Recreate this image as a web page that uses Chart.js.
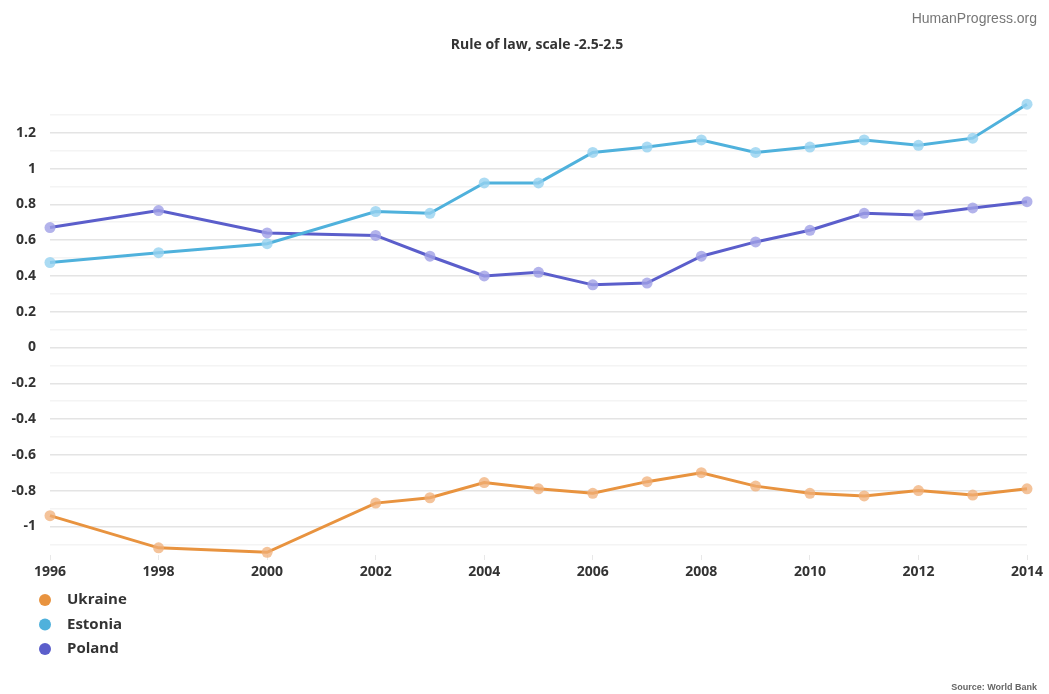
<!DOCTYPE html>
<html>
<head>
  <meta charset="utf-8" />
  <title>Rule of law, scale -2.5-2.5</title>
  <script src="https://cdn.jsdelivr.net/npm/chart.js"></script>
  <style>
    html, body { margin: 0; padding: 0; background: #fff; }
    #wrap { position: relative; width: 1049px; height: 694px; }
  </style>
</head>
<body>
  <div id="wrap">
    <canvas id="lawChart" width="1049" height="694"></canvas>
  </div>

  <script>
    // Data
    const years = [1996, 1998, 2000, 2002, 2003, 2004, 2005, 2006, 2007, 2008, 2009, 2010, 2011, 2012, 2013, 2014];
    const ukraine = [-0.94, -1.12, -1.145, -0.87, -0.84, -0.755, -0.79, -0.815, -0.75, -0.70, -0.775, -0.815, -0.83, -0.80, -0.825, -0.79];
    const estonia = [0.475, 0.53, 0.58, 0.76, 0.75, 0.92, 0.92, 1.09, 1.12, 1.16, 1.09, 1.12, 1.16, 1.13, 1.17, 1.36];
    const poland = [0.67, 0.765, 0.64, 0.626, 0.51, 0.40, 0.42, 0.35, 0.36, 0.51, 0.59, 0.655, 0.75, 0.74, 0.78, 0.815];
    const seriesNames = ['Ukraine', 'Estonia', 'Poland'];
    const seriesColors = ['#e8933f', '#4fb1dc', '#5b5ecb'];
    const markerColors = ['rgba(240,175,120,0.75)', 'rgba(150,210,240,0.8)', 'rgba(160,160,230,0.8)'];
    const xTicks = [1996, 1998, 2000, 2002, 2004, 2006, 2008, 2010, 2012, 2014];

    const chartTitle = 'Rule of law, scale -2.5-2.5';
    const creditText = 'HumanProgress.org';
    const sourceText = 'Source: World Bank';

    function toPoints(values) {
      return values.map((v, i) => ({ x: years[i], y: v }));
    }

    const datasets = [ukraine, estonia, poland].map((vals, i) => ({
      label: seriesNames[i],
      data: toPoints(vals),
      borderColor: seriesColors[i],
      backgroundColor: seriesColors[i],
      borderWidth: 3,
      pointRadius: 5.5,
      pointBackgroundColor: markerColors[i],
      pointBorderWidth: 0,
      tension: 0,
      clip: false
    }));

    // Extra texts + vertical legend drawn on the canvas
    const extras = {
      id: 'extras',
      afterDraw(chart) {
        const ctx = chart.ctx;
        ctx.save();
        ctx.textBaseline = 'middle';

        ctx.fillStyle = '#777';
        ctx.font = '14px "Liberation Sans", Arial, sans-serif';
        ctx.textAlign = 'right';
        ctx.fillText(creditText, 1037, 19);

        ctx.fillStyle = '#333';
        ctx.font = 'bold 14px "Open Sans", sans-serif';
        ctx.textAlign = 'center';
        ctx.fillText(chartTitle, 537, 45);

        ctx.fillStyle = '#666';
        ctx.font = 'bold 9px "Liberation Sans", Arial, sans-serif';
        ctx.textAlign = 'right';
        ctx.fillText(sourceText, 1037, 688);

        ctx.textAlign = 'left';
        ctx.font = 'bold 15px "Open Sans", sans-serif';
        seriesNames.forEach((name, i) => {
          const y = 600 + i * 24.5;
          ctx.fillStyle = seriesColors[i];
          ctx.beginPath();
          ctx.arc(45, y, 6, 0, Math.PI * 2);
          ctx.fill();
          ctx.fillStyle = '#333';
          ctx.fillText(name, 67, y);
        });
        ctx.restore();
      }
    };

    const ctx = document.getElementById('lawChart').getContext('2d');
    new Chart(ctx, {
      type: 'line',
      data: { datasets: datasets },
      options: {
        responsive: false,
        animation: false,
        layout: { padding: { left: 0, right: 22, top: 97, bottom: 0 } },
        plugins: {
          legend: { display: false },
          title: { display: false },
          tooltip: { enabled: false }
        },
        scales: {
          x: {
            type: 'linear',
            min: 1996,
            max: 2014,
            afterBuildTicks: (scale) => { scale.ticks = xTicks.map(v => ({ value: v })); },
            afterFit: (scale) => { scale.height = 139; },
            border: { display: false },
            grid: {
              drawOnChartArea: false,
              drawTicks: true,
              tickLength: 5,
              color: '#e8e8e8'
            },
            ticks: {
              padding: 4,
              autoSkip: false,
              color: '#333',
              font: { family: '"Open Sans", sans-serif', size: 14, weight: 'bold' },
              callback: (v) => String(v),
              maxRotation: 0
            }
          },
          y: {
            min: -1.16,
            max: 1.4,
            afterBuildTicks: (scale) => {
              const t = [];
              for (let k = -11; k <= 13; k++) t.push({ value: k / 10 });
              scale.ticks = t;
            },
            afterFit: (scale) => { scale.width = 50; },
            border: { display: false },
            grid: {
              drawTicks: false,
              lineWidth: 1.5,
              color: (c) => {
                const k = Math.round(c.tick.value * 10);
                return k % 2 === 0 ? '#e4e4e4' : '#f4f4f4';
              }
            },
            ticks: {
              padding: 14,
              autoSkip: false,
              color: '#333',
              font: { family: '"Open Sans", sans-serif', size: 14, weight: 'bold' },
              callback: (v) => {
                const k = Math.round(v * 10);
                if (k % 2 !== 0 || k > 12 || k < -10) return '';
                return String(k / 10);
              }
            }
          }
        }
      },
      plugins: [extras]
    });
  </script>
</body>
</html>
